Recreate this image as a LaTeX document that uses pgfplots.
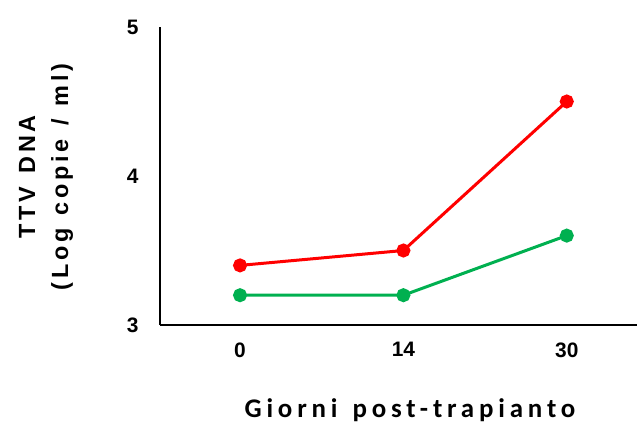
\documentclass[border=0pt]{standalone}
\usepackage{fontspec}
\setmainfont{Liberation Sans}
\newfontfamily\ylabfont[LetterSpace=16]{Liberation Sans}
\newfontfamily\xlabfont[LetterSpace=18]{Carlito}
\usepackage{pgfplots}
\pgfplotsset{compat=1.18}
\definecolor{cred}{HTML}{FF0000}
\definecolor{cgreen}{HTML}{00B050}
\begin{document}
\begin{tikzpicture}
\begin{axis}[
  scale only axis,
  width=477bp, height=298bp,
  xmin=-0.49, xmax=2.43,
  ymin=3, ymax=5,
  axis lines*=left,
  axis line style={line width=1.6bp, black},
  xtick={0,1,2},
  xticklabels={0,14,30},
  ytick={3,4,5},
  major tick length=0pt,
  /pgf/number format/assume math mode=true,
  ticklabel style={font=\fontsize{21}{24}\selectfont\bfseries},
  yticklabel style={xshift=-18bp},
  xticklabel style={yshift=-14bp},
  clip=false,
  xlabel={Giorni\hspace{4bp} post-trapianto},
  xlabel style={at={(rel axis cs:0.524,-0.285)}, anchor=center, font=\xlabfont\fontsize{27}{30}\selectfont\bfseries},
  ylabel={TTV\hspace{3bp} DNA\\(Log\hspace{3bp} copie\hspace{3bp} /\hspace{3bp} ml)},
  ylabel style={at={(rel axis cs:-0.239,0.497)}, anchor=center, rotate=0, align=center, font=\ylabfont\fontsize{23.5}{33}\selectfont\bfseries},
]
\addplot[color=cred, line width=3bp, mark=*, mark size=5.5bp, mark options={solid}] coordinates {(0,3.4) (1,3.5) (2,4.5)};
\addplot[color=cgreen, line width=3bp, mark=*, mark size=5.5bp, mark options={solid}] coordinates {(0,3.2) (1,3.2) (2,3.6)};
\end{axis}
\pgfresetboundingbox
\path (-160bp,-98bp) rectangle (477bp,325bp);
\end{tikzpicture}
\end{document}
